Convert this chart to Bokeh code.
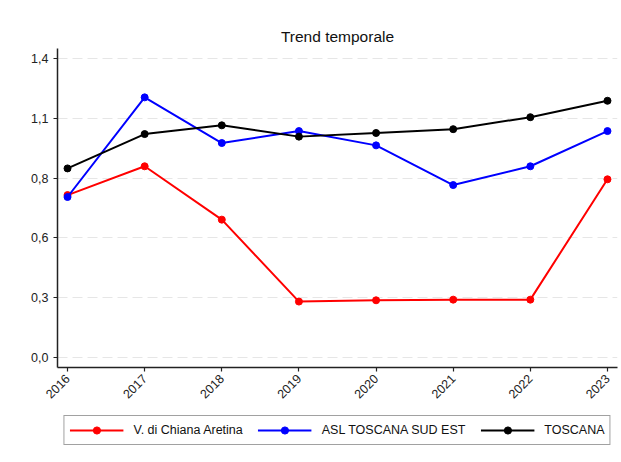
import math
from bokeh.plotting import figure
from bokeh.layouts import column
from bokeh.models import FixedTicker, Legend, LegendItem, Range1d
from bokeh.embed import file_html
from bokeh.resources import INLINE

years = [2016, 2017, 2018, 2019, 2020, 2021, 2022, 2023]
chiana = [0.761, 0.896, 0.646, 0.262, 0.268, 0.271, 0.271, 0.835]
asl = [0.752, 1.219, 1.005, 1.061, 0.994, 0.808, 0.896, 1.061]
toscana = [0.886, 1.047, 1.088, 1.035, 1.052, 1.070, 1.126, 1.203]

y_ticks = [0.0, 0.28, 0.56, 0.84, 1.12, 1.4]
y_tick_labels = ["0,0", "0,3", "0,6", "0,8", "1,1", "1,4"]

series = [
    ("V. di Chiana Aretina", chiana, "#ff0000"),
    ("ASL TOSCANA SUD EST", asl, "#0000ff"),
    ("TOSCANA", toscana, "#000000"),
]

FONT = "Liberation Sans"

p = figure(width=621, height=408, output_backend="svg", toolbar_location=None,
           x_range=Range1d(2015.87, 2023.13), y_range=Range1d(-0.047, 1.448),
           min_border_left=57, min_border_right=4, min_border_top=48, min_border_bottom=41,
           title="Trend temporale")
p.outline_line_color = None
p.background_fill_color = "white"
p.border_fill_color = "white"

p.title.align = "center"
p.title.text_font = FONT
p.title.text_font_size = "15.5px"
p.title.text_font_style = "normal"
p.title.text_color = "#111111"
p.title.standoff = 8

for name, vals, col in series:
    p.line(years, vals, line_color=col, line_width=2)
    p.scatter(years, vals, marker="circle", size=7, fill_color=col, line_color=col)

p.xaxis.ticker = FixedTicker(ticks=years)
p.xaxis.major_label_orientation = math.pi / 4
p.yaxis.ticker = FixedTicker(ticks=y_ticks)
p.yaxis.major_label_overrides = {t: l for t, l in zip(y_ticks, y_tick_labels)}

for ax in (p.xaxis[0], p.yaxis[0]):
    ax.axis_line_color = "#222222"
    ax.axis_line_width = 1.5
    ax.major_tick_line_color = "#222222"
    ax.major_tick_line_width = 1.2
    ax.major_tick_out = 4
    ax.major_tick_in = 0
    ax.minor_tick_out = 0
    ax.minor_tick_in = 0
    ax.major_label_text_font = FONT
    ax.major_label_text_font_size = "12.5px"
    ax.major_label_text_color = "#222222"
    ax.major_label_standoff = 5

p.xgrid.grid_line_color = None
p.ygrid.grid_line_color = "#e6e6e6"
p.ygrid.grid_line_dash = "10 5"
p.ygrid.grid_line_width = 1

# Legend strip: same series drawn out of view, legend inside its frame
lg = figure(width=621, height=54, output_backend="svg", toolbar_location=None,
            x_range=Range1d(2015.87, 2023.13), y_range=Range1d(10, 11),
            x_axis_location=None, y_axis_location=None,
            min_border_left=57, min_border_right=4, min_border_top=0, min_border_bottom=0)
lg.outline_line_color = None
lg.grid.visible = False
lg.background_fill_color = "white"
lg.border_fill_color = "white"

items = []
for name, vals, col in series:
    r1 = lg.line(years, vals, line_color=col, line_width=2)
    r2 = lg.scatter(years, vals, marker="circle", size=7, fill_color=col, line_color=col)
    items.append(LegendItem(label=name, renderers=[r1, r2]))

legend = Legend(items=items, orientation="horizontal", location="top_center")
legend.label_text_font = FONT
legend.label_text_font_size = "12.5px"
legend.label_text_color = "#111111"
legend.glyph_width = 54
legend.glyph_height = 18
legend.label_height = 18
legend.label_standoff = 10
legend.spacing = 15
legend.padding = 5
legend.margin = 7
legend.border_line_color = "#444444"
legend.border_line_width = 1.5
legend.background_fill_color = "white"
lg.add_layout(legend, "center")

layout = column(p, lg, spacing=0)

open("out.html", "w").write(file_html(layout, INLINE))
